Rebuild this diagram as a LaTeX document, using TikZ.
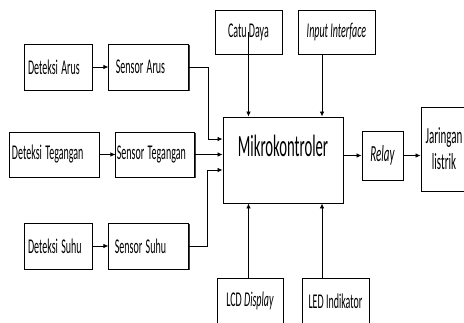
\documentclass[tikz,border=0pt]{standalone}
\usepackage{fontspec}
\setmainfont{Carlito}
\usepackage{tikz}
\usetikzlibrary{arrows.meta, positioning, shadows}
% text in the reference is drawn tall and narrow
\newcommand{\tinggi}[1]{\scalebox{1}[2.1]{#1}}

\begin{document}
\begin{tikzpicture}[
    x=1pt, y=-1pt,
    blok/.style={draw, line width=0.9pt, fill=white, inner sep=1pt,
                 minimum height=46pt, font=\fontsize{10}{12}\selectfont,
                 drop shadow={shadow xshift=1pt, shadow yshift=-1pt,
                              opacity=1, fill=black!75}},
    kiri/.style={align=left, inner xsep=#1},
    panah/.style={line width=0.8pt, -{Latex[length=5pt,width=4.5pt]}}
]
    \clip (0,0) rectangle (464,322);

    % sensor side
    \node[blok, kiri=4pt, text width=60pt] (detArus) at (58,67) {\tinggi{Deteksi Arus}};
    \node[blok, kiri=7pt, text width=66pt, right=16pt of detArus] (senArus) {\tinggi{Sensor Arus}};
    \node[blok, kiri=3pt, text width=84pt, minimum height=45pt] (detTeg) at (54,154.5) {\tinggi{Deteksi Tegangan}};
    \node[blok, kiri=1pt, text width=77pt, minimum height=45pt, right=16pt of detTeg] (senTeg) {\tinggi{Sensor Tegangan}};
    \node[blok, kiri=4pt, text width=60pt] (detSuhu) at (58,246) {\tinggi{Deteksi Suhu}};
    \node[blok, kiri=6pt, text width=68pt, right=16pt of detSuhu] (senSuhu) {\tinggi{Sensor Suhu}};

    % controller and the rest
    \node[blok, minimum width=120pt, minimum height=86pt, text depth=28pt,
          font=\fontsize{14.7}{16}\selectfont] (mikro) at (283,160) {\tinggi{Mikrokontroler}};
    \node[blok, minimum width=67pt, minimum height=44pt] (catu) at (248.5,32) {\tinggi{Catu Daya}};
    \node[blok, minimum width=77pt, minimum height=44pt] (input) at (336.5,32) {\tinggi{\textit{Input Interface}}};
    \node[blok, minimum width=41pt, minimum height=49pt, font=\fontsize{11}{12}\selectfont] (relay) at (382.5,155.5) {\tinggi{\textit{Relay}}};
    \node[blok, minimum width=46pt, minimum height=84pt, align=center,
          font=\fontsize{11}{12}\selectfont] (jaringan) at (444,149) {\tinggi{Jaringan}\\[5pt]\tinggi{listrik}};
    \node[blok, minimum width=66pt] (lcd) at (250,301) {\tinggi{LCD \textit{Display}}};
    \node[blok, minimum width=67pt] (led) at (335.5,301) {\tinggi{LED Indikator}};

    % connectors
    \draw[panah] (detArus) -- (senArus);
    \draw[panah] (detTeg) -- (senTeg);
    \draw[panah] (detSuhu) -- (senSuhu);
    \draw[panah] (senArus.east) -- ++(19,0) |- ([yshift=21pt]mikro.west);
    \draw[panah] (senTeg.east) -- (senTeg.east -| mikro.west);
    \draw[panah] (senSuhu.east) -- ++(18,0) |- ([yshift=-10pt]mikro.west);
    \draw[panah] (catu.center) -- (catu |- mikro.north);
    \draw[panah] ([xshift=-14.5pt]input.south) -- ([xshift=-14.5pt]input.south |- mikro.north);
    \draw[panah] (lcd.north -| catu) -- (catu |- mikro.south);
    \draw[panah] ([xshift=-13.5pt]led.north) -- ([xshift=-13.5pt]led.north |- mikro.south);
    \draw[panah] (mikro.east |- relay.west) -- (relay.west);
    \draw[panah] (relay.east) -- (relay.east -| jaringan.west);
\end{tikzpicture}
\end{document}
